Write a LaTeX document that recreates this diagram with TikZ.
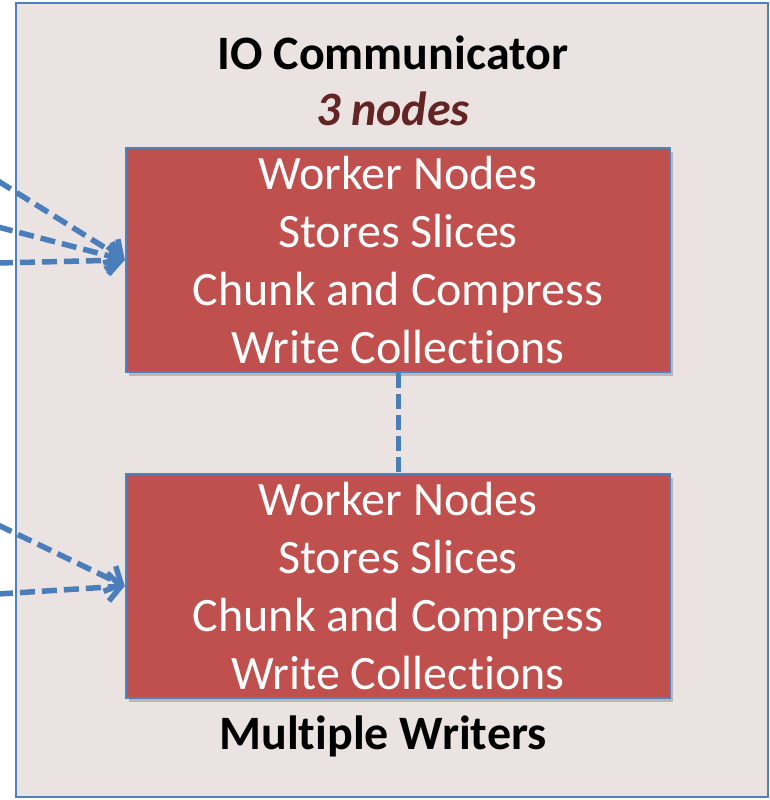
\documentclass[tikz,border=0pt]{standalone}
\usepackage{fontspec}
\setmainfont{Carlito}[Ligatures=NoCommon,RawFeature={-liga}]
\usetikzlibrary{arrows.meta,shadows}
\definecolor{bgpink}{HTML}{EBE2E2}
\definecolor{bblue}{HTML}{4F81BD}
\definecolor{lblue}{HTML}{4A7EBB}
\definecolor{bred}{HTML}{C0504D}
\definecolor{dred}{HTML}{632523}
\tikzset{
  workerbox/.style={draw=bblue, line width=2.5pt, fill=bred, text=white,
    minimum width=544pt, minimum height=224pt, inner sep=0pt, align=center,
    font=\fontsize{48}{58}\selectfont,
    drop shadow={shadow xshift=3pt, shadow yshift=-4pt, opacity=0.35, fill=black!60}},
  dasharrow/.style={draw=lblue, line width=5.5pt, dash pattern=on 15pt off 7pt,
    -{Straight Barb[length=13pt,width=28pt]}},
  dashlink/.style={draw=lblue, line width=5pt, dash pattern=on 15pt off 6pt},
  titletext/.style={font=\fontsize{48}{58}\selectfont\bfseries, anchor=base, inner sep=0pt}
}
\begin{document}
\begin{tikzpicture}[x=1pt,y=-1pt]
\useasboundingbox (0,0) rectangle (770,800);
\fill[white] (0,0) rectangle (770,800);
\node[draw=bblue, line width=2pt, fill=bgpink, minimum width=752pt, minimum height=794pt, inner sep=0pt] (outer) at (392,400) {};
\node[titletext] (title) at (393,70) {IO Communicator};
\node[titletext, text=dred, font=\fontsize{48}{58}\selectfont\bfseries\itshape] (count) at (393,125) {3 nodes};
\node[workerbox] (w1) at (398,260) {\raisebox{-2pt}{\parbox{540pt}{\centering Worker Nodes\\Stores Slices\\Chunk and Compress\\Write Collections}}};
\node[workerbox] (w2) at (398,586) {\raisebox{-2pt}{\parbox{540pt}{\centering Worker Nodes\\Stores Slices\\Chunk and Compress\\Write Collections}}};
\node[titletext] (multi) at (383,749) {Multiple Writers};
\coordinate (a1) at (-2,181);
\coordinate (a2) at (-2,227);
\coordinate (a3) at (-2,263);
\coordinate (b1) at (-2,525);
\coordinate (b2) at (-2,594);
\draw[dasharrow] (a1) -- (w1.west);
\draw[dasharrow] (a2) -- (w1.west);
\draw[dasharrow] (a3) -- (w1.west);
\draw[dasharrow] (b1) -- (w2.west);
\draw[dasharrow] (b2) -- (w2.west);
\draw[dashlink] (w1.south) -- (w2.north);
\end{tikzpicture}
\end{document}
